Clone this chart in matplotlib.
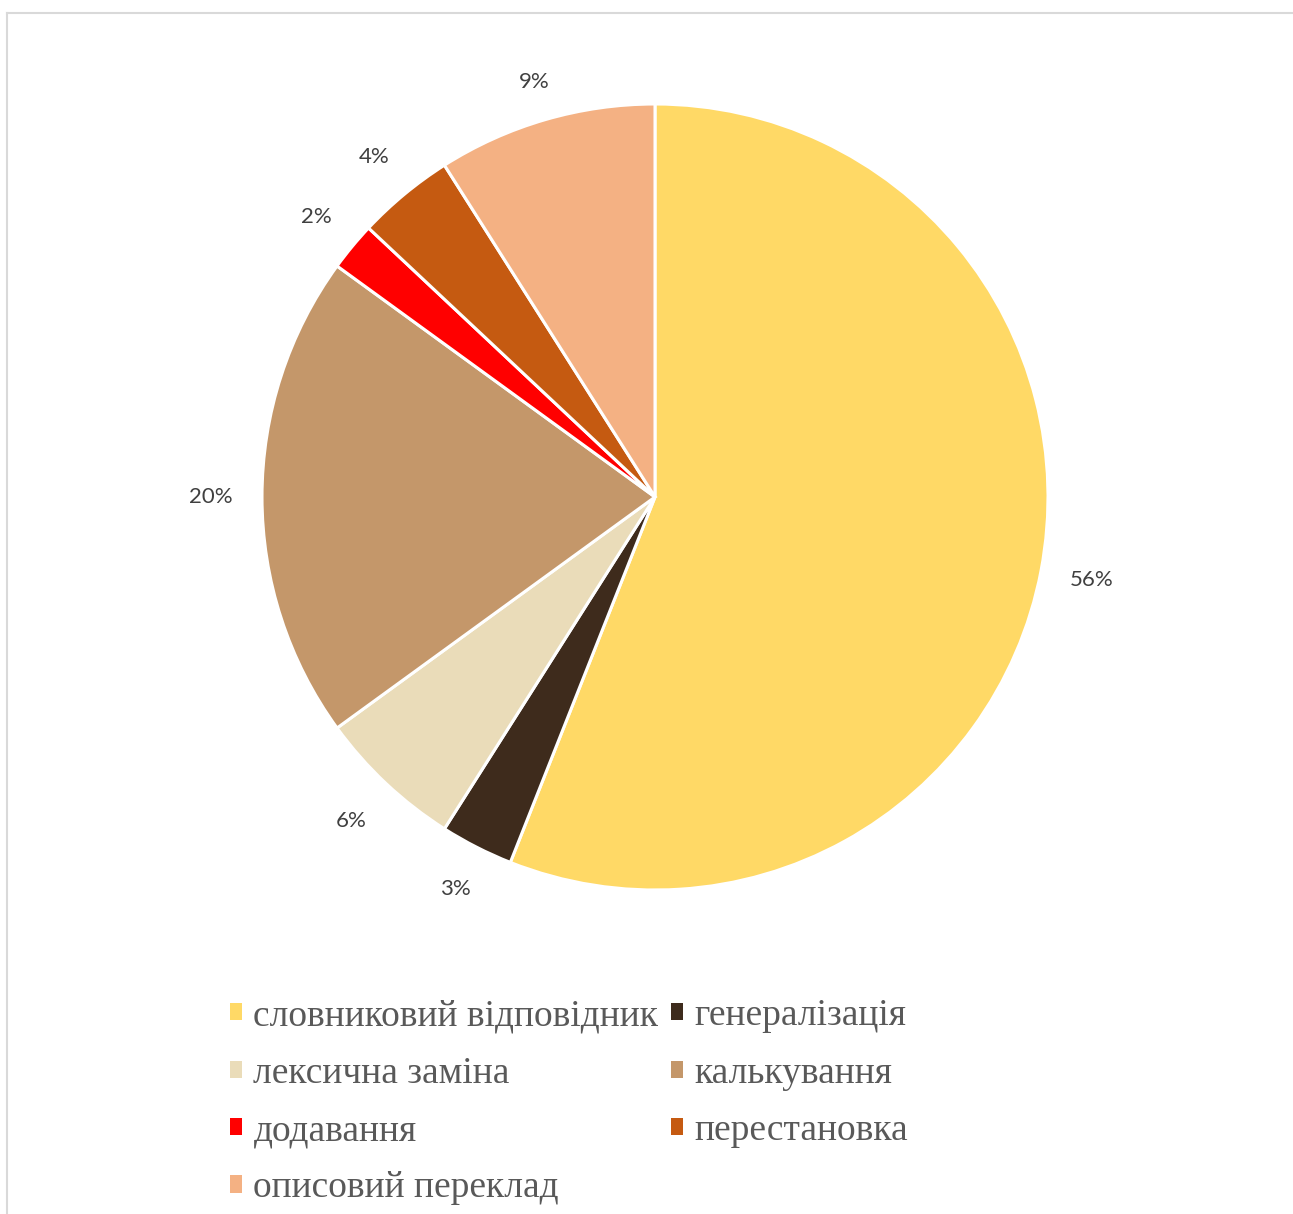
import matplotlib
matplotlib.use("Agg")
import matplotlib.pyplot as plt
import numpy as np
from matplotlib.patches import Patch
from matplotlib.lines import Line2D

# data (percent)
labels = ["словниковий відповідник", "генералізація", "лексична заміна",
          "калькування", "додавання", "перестановка", "описовий переклад"]
values = [56, 3, 6, 20, 2, 4, 9]
colors = ["#FFD966", "#3E2B1C", "#EADCB9", "#C4976A",
          "#FF0000", "#C55A11", "#F4B183"]
# distance of each percent label from the centre (pie radius = 1)
label_dist = [1.132, 1.12, 1.13, 1.13, 1.117, 1.122, 1.10]

W, H = 1293, 1214
fig = plt.figure(figsize=(W / 100, H / 100), dpi=100)

# pie centre (655, 497) px, radius 393 px
cx, cy, r = 655, 497, 393
ax = fig.add_axes([(cx - r) / W, (H - cy - r) / H, 2 * r / W, 2 * r / H])
wedges, texts, autotexts = ax.pie(
    values, colors=colors, startangle=90, counterclock=False,
    autopct="%d%%", pctdistance=1.13, radius=1,
    wedgeprops=dict(edgecolor="white", linewidth=2.2),
    textprops=dict(color="#404040", fontsize=16, family="Lato"))
for w, t, d in zip(wedges, autotexts, label_dist):
    ang = np.deg2rad((w.theta1 + w.theta2) / 2)
    t.set_position((d * np.cos(ang), d * np.sin(ang)))
ax.set_xlim(-1, 1)
ax.set_ylim(-1, 1)
ax.axis("off")

# legend, filled row by row like the original
order = [0, 2, 4, 6, 1, 3, 5]
handles = [Patch(facecolor=colors[i], edgecolor="none") for i in order]
leg = fig.legend(handles, [labels[i] for i in order], ncol=2,
                 loc="upper left", bbox_to_anchor=(211 / W, 1 - 980 / H),
                 frameon=False,
                 prop=dict(family="Liberation Serif", size=27),
                 handlelength=0.33, handleheight=0.33, handletextpad=0.3,
                 columnspacing=0.33, labelspacing=0.61, borderpad=0)
for t in leg.get_texts():
    t.set_color("#595959")

# chart area border (only top and left visible)
fig.add_artist(Line2D([7 / W, 1], [1 - 13 / H, 1 - 13 / H], color="#D9D9D9", lw=1.5))
fig.add_artist(Line2D([7 / W, 7 / W], [0, 1 - 13 / H], color="#D9D9D9", lw=1.5))

fig.savefig("out.png", dpi=100, facecolor="white")
